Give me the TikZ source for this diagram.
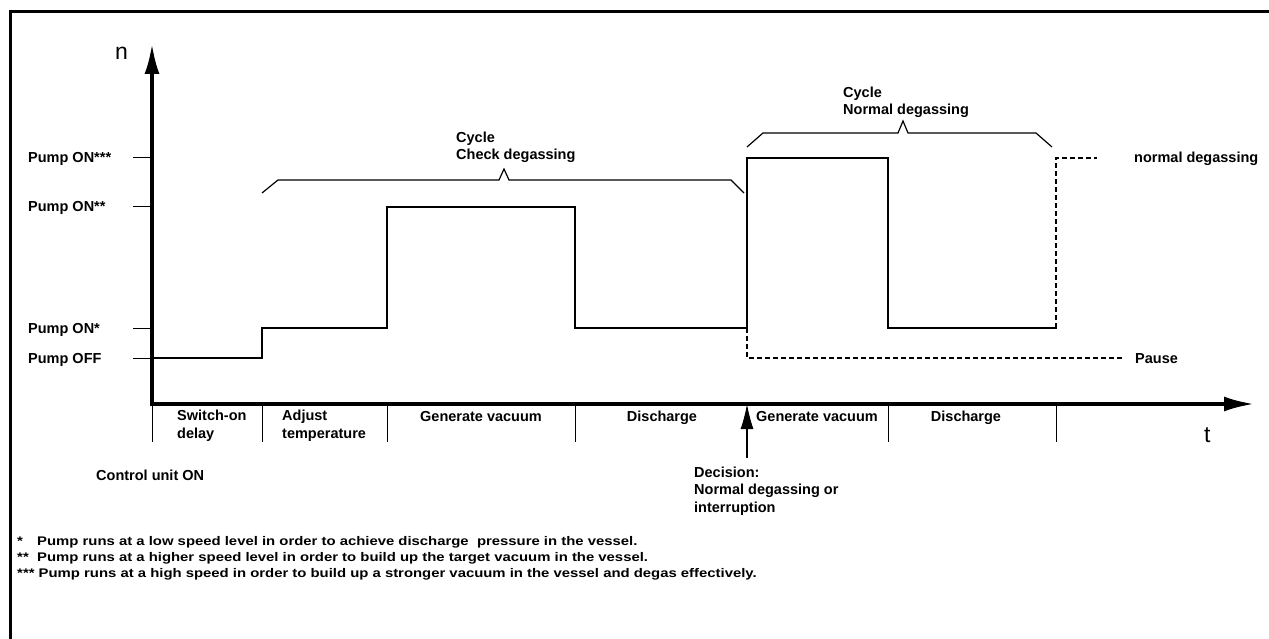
\documentclass[tikz,border=0pt]{standalone}
\usepackage{fontspec}
\setmainfont{Liberation Sans}
\usetikzlibrary{arrows.meta}
\begin{document}
\begin{tikzpicture}[x=1pt,y=-1pt,
  lbl/.style={font=\fontsize{14.5}{17.5}\selectfont\bfseries, inner sep=0pt, anchor=base west, align=left},
  foot/.style={font=\fontsize{12.5}{14}\selectfont\bfseries, inner sep=0pt, anchor=base west, xscale=1.19},
  axlbl/.style={font=\fontsize{23}{26}\selectfont, inner sep=0pt, anchor=base west},
  frame/.style={line width=3pt},
  axis/.style={line width=3.4pt, line join=miter},
  sig/.style={line width=2.4pt, line join=miter, line cap=rect},
  tickline/.style={line width=1pt},
  bracel/.style={line width=1.2pt, line join=miter},
  dsh/.style={line width=1.2pt, dash pattern=on 5pt off 3pt}
]
\useasboundingbox (0,0) rectangle (1269,639);

% frame
\coordinate (fBL) at (10,641);
\coordinate (fTL) at (10,12);
\coordinate (fTR) at (1271,12);
\draw[frame] (fBL) -- (fTL) -- (fTR);

% axes
\coordinate (O) at (152,404);
\coordinate (yEnd) at (152,44);
\coordinate (xEnd) at (1254,404);
\draw[axis, {Latex[length=30pt,width=15pt]}-{Latex[length=30pt,width=15pt]}] (yEnd) -- (O) -- (xEnd);
\node[axlbl] (n) at (115,60) {n};
\node[axlbl] (t) at (1204,442) {t};

% level ticks and labels
\foreach \nm/\yy/\txt in {p3/158/{Pump ON***}, p2/207/{Pump ON**}, p1/328/{Pump ON*}, p0/358/{Pump OFF}}{
  \coordinate (\nm a) at (133,\yy);
  \coordinate (\nm b) at (152,\yy);
  \draw[tickline] (\nm a) -- (\nm b);
  \node[lbl] (\nm lbl) at (28,\yy+5) {\txt};
}

% signal
\coordinate (s0) at (152,358);
\coordinate (s1) at (262,358);
\coordinate (s2) at (262,328);
\coordinate (s3) at (387,328);
\coordinate (s4) at (387,207);
\coordinate (s5) at (575,207);
\coordinate (s6) at (575,328);
\coordinate (s7) at (747,328);
\coordinate (s8) at (747,158);
\coordinate (s9) at (888,158);
\coordinate (s10) at (888,328);
\coordinate (s11) at (1056,328);
\draw[sig] (s0) -- (s1) -- (s2) -- (s3) -- (s4) -- (s5) -- (s6) -- (s7) -- (s8) -- (s9) -- (s10) -- (s11);

% dashed alternatives
\coordinate (d1) at (747,358);
\coordinate (d2) at (1124,358);
\coordinate (d3) at (1056,158);
\coordinate (d4) at (1097,158);
\draw[dsh] (s7) -- (d1) -- (d2);
\draw[dsh] (s11) -- (d3) -- (d4);
\node[lbl] (pause) at (1135,363) {Pause};
\node[lbl] (normal) at (1134,163) {normal degassing};

% brace 1
\coordinate (b1a) at (262,193);
\coordinate (b1b) at (278,180);
\coordinate (b1c) at (499,180);
\coordinate (b1d) at (504,169);
\coordinate (b1e) at (509,180);
\coordinate (b1f) at (731,180);
\coordinate (b1g) at (744,193);
\draw[bracel] (b1a) -- (b1b) -- (b1c) -- (b1d) -- (b1e) -- (b1f) -- (b1g);
\node[lbl] (cyc1) at (456,160) {Cycle\\Check degassing};

% brace 2
\coordinate (b2a) at (747,147);
\coordinate (b2b) at (763,133);
\coordinate (b2c) at (898,133);
\coordinate (b2d) at (903,121);
\coordinate (b2e) at (908,133);
\coordinate (b2f) at (1036,133);
\coordinate (b2g) at (1052,147);
\draw[bracel] (b2a) -- (b2b) -- (b2c) -- (b2d) -- (b2e) -- (b2f) -- (b2g);
\node[lbl] (cyc2) at (843,115) {Cycle\\Normal degassing};

% time division ticks
\foreach \nm/\xx in {t0/152, t1/262, t2/387, t3/575, t4/888, t5/1056}{
  \coordinate (\nm a) at (\xx,404);
  \coordinate (\nm b) at (\xx,442);
  \draw[tickline] (\nm a) -- (\nm b);
}

% phase labels
\node[lbl] (ph1) at (177,438) {Switch-on\\delay};
\node[lbl] (ph2) at (282,438) {Adjust\\temperature};
\node[lbl, anchor=base] (ph3) at (481,421) {Generate vacuum};
\node[lbl, anchor=base] (ph4) at (662,421) {Discharge};
\node[lbl, anchor=base] (ph5) at (817,421) {Generate vacuum};
\node[lbl, anchor=base] (ph6) at (966,421) {Discharge};

% decision arrow
\coordinate (decA) at (747,458);
\coordinate (decB) at (747,404);
\draw[line width=1.2pt, -{Latex[length=25pt,width=13pt]}] (decA) -- (decB);
\node[lbl] (dec) at (694,512) {Decision:\\Normal degassing or\\interruption};

\node[lbl] (ctrl) at (96,480) {Control unit ON};

% footnotes
\node[foot] (f1s) at (17,545) {*};
\node[foot] (f1) at (37,545) {Pump runs at a low speed level in order to achieve discharge\ \ pressure in the vessel.};
\node[foot] (f2s) at (17,561) {**};
\node[foot] (f2) at (37,561) {Pump runs at a higher speed level in order to build up the target vacuum in the vessel.};
\node[foot] (f3) at (17,577) {*** Pump runs at a high speed in order to build up a stronger vacuum in the vessel and degas effectively.};
\end{tikzpicture}
\end{document}
